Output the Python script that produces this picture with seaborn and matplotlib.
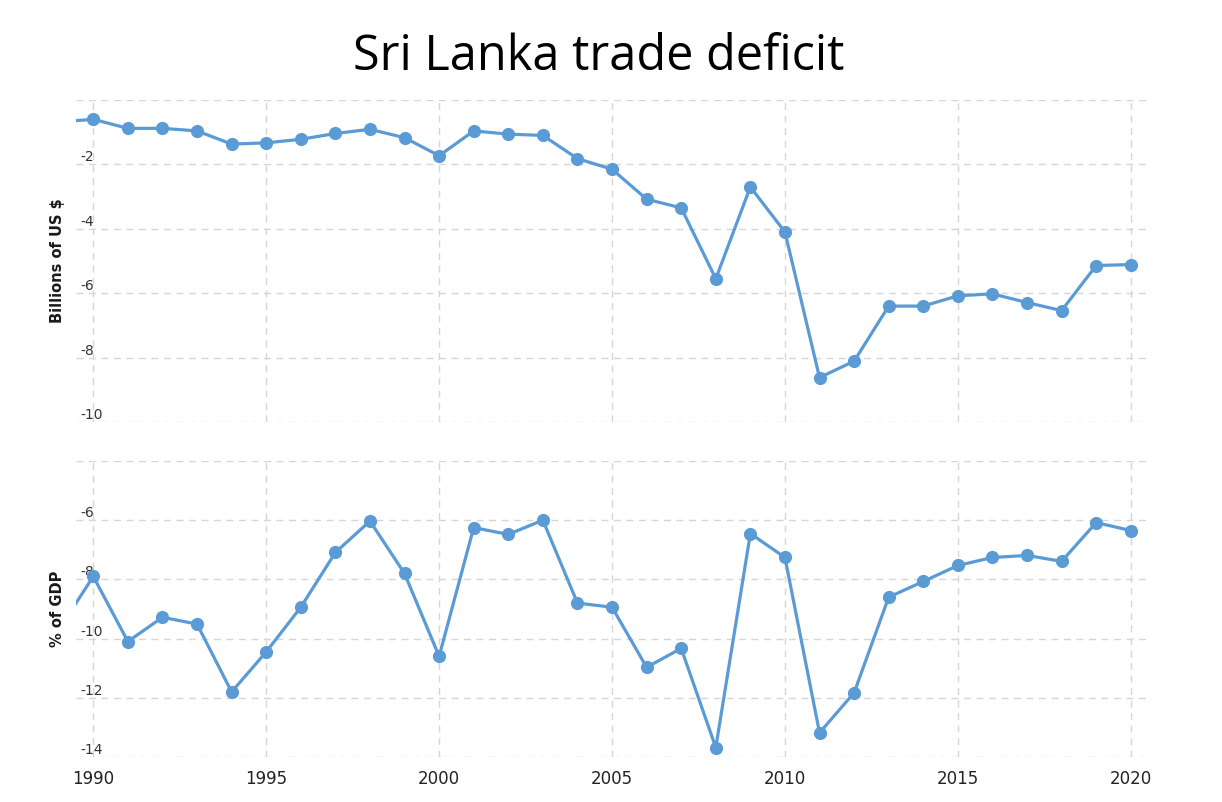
import numpy as np
import pandas as pd
import matplotlib
matplotlib.use('Agg')
import matplotlib.pyplot as plt
import seaborn as sns

# values (1989 sits just off the left edge)
years = list(range(1989, 2021))
deficit_usd = [-0.68, -0.60, -0.88, -0.88, -0.96, -1.37, -1.33, -1.22, -1.04, -0.91,
               -1.17, -1.73, -0.96, -1.06, -1.10, -1.82, -2.15, -3.08, -3.35, -5.55,
               -2.70, -4.10, -8.62, -8.11, -6.40, -6.40, -6.08, -6.02, -6.29, -6.54,
               -5.14, -5.11]
deficit_gdp = [-9.70, -7.90, -10.10, -9.28, -9.51, -11.80, -10.45, -8.94, -7.09, -6.03,
               -7.80, -10.60, -6.25, -6.48, -6.00, -8.80, -8.94, -10.97, -10.33, -13.68,
               -6.45, -7.26, -13.18, -11.83, -8.60, -8.07, -7.53, -7.26, -7.19, -7.39,
               -6.08, -6.35]

top_ticks = [0, -2, -4, -6, -8, -10]
bottom_ticks = [-4, -6, -8, -10, -12, -14]
year_ticks = [1990, 1995, 2000, 2005, 2010, 2015, 2020]

df = pd.DataFrame({'year': years, 'usd': deficit_usd, 'gdp': deficit_gdp})

sns.set_style('white')
plt.rcParams['font.family'] = ['DejaVu Sans']

fig = plt.figure(figsize=(12.22, 8.02), dpi=100)
ax1 = fig.add_axes([0.0622, 0.4738, 0.8756, 0.4015])
ax2 = fig.add_axes([0.0622, 0.0561, 0.8756, 0.3691])

blue = '#5b9bd5'
panels = [(ax1, 'usd', top_ticks, 'Billions of US $'),
          (ax2, 'gdp', bottom_ticks, '% of GDP')]

for ax, col, ticks, lab in panels:
    sns.lineplot(data=df, x='year', y=col, ax=ax, color=blue, linewidth=2.3,
                 marker='o', markersize=9.5, markeredgewidth=0)
    ax.set_xlim(1989.5, 2020.44)
    ax.set_ylim(min(ticks), max(ticks))
    ax.set_yticks(ticks)
    ax.set_xticks(year_ticks)
    ax.grid(True, color='#d6d6d6', linestyle=(0, (5, 4)), linewidth=1)
    ax.set_axisbelow(True)
    for s in ax.spines.values():
        s.set_visible(False)
    ax.tick_params(axis='y', length=0, pad=-3.5, labelsize=10, labelcolor='#333333')
    ax.tick_params(axis='x', length=0, pad=9, labelsize=12, labelcolor='#222222')
    labels = [str(t) if t != max(ticks) else '' for t in ticks]
    ax.set_yticklabels(labels)
    for t in ax.get_yticklabels():
        t.set_horizontalalignment('left')
        t.set_verticalalignment('bottom')
    ax.set_xlabel('')
    ax.set_ylabel(lab, fontsize=10.5, fontweight='bold', color='#1a1a1a')
    ax.yaxis.set_label_coords(-0.010, 0.5)

ax1.tick_params(axis='x', labelbottom=False)

fig.text(0.49, 0.913, 'Sri Lanka trade deficit', ha='center', va='baseline',
         fontsize=35, family=['Liberation Sans Narrow', 'Open Sans', 'DejaVu Sans'],
         color='black')

fig.savefig('out.png', dpi=100, facecolor='white')
